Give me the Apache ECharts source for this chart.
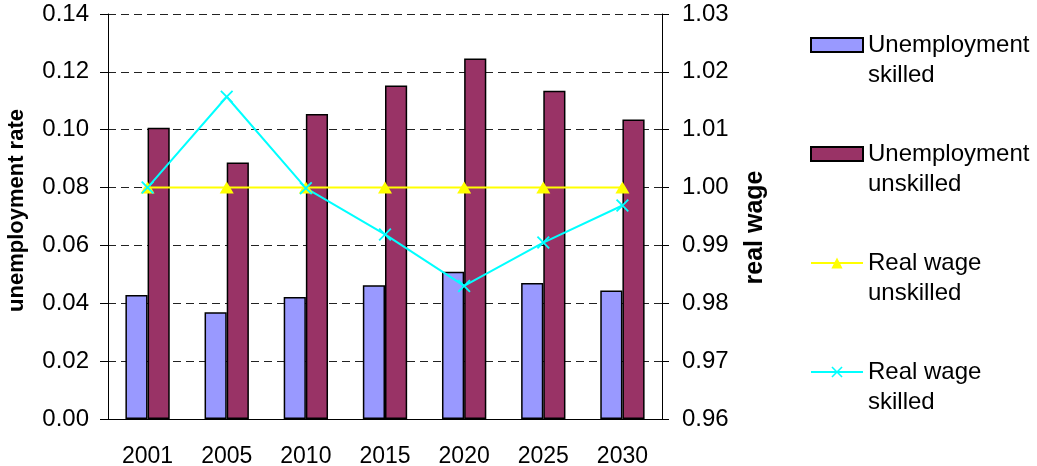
<!DOCTYPE html>
<html>
<head>
<meta charset="utf-8">
<script src="https://cdn.jsdelivr.net/npm/echarts@6/dist/echarts.min.js"></script>
<style>
  html, body { margin: 0; padding: 0; background: #fff; }
  #chart { width: 1037px; height: 466px; }
</style>
</head>
<body>
<div id="chart"></div>
<script>
  // values
  const years = ['2001', '2005', '2010', '2015', '2020', '2025', '2030'];
  const unempSkilled = [0.0429, 0.0369, 0.0422, 0.0462, 0.0509, 0.0470, 0.0444];
  const unempUnskilled = [0.1007, 0.0887, 0.1054, 0.1153, 0.1246, 0.1135, 0.1035];
  const wageUnskilled = [1.000, 1.000, 1.000, 1.000, 1.000, 1.000, 1.000];
  const wageSkilled = [1.0000, 1.0157, 0.9999, 0.9919, 0.9830, 0.9905, 0.9969];

  const font = '"Liberation Sans", Arial, sans-serif';
  const xMark = 'path://M0,1L1,0L5,4L9,0L10,1L6,5L10,9L9,10L5,6L1,10L0,9L4,5Z';

  const chart = echarts.init(document.getElementById('chart'));

  const option = {
    animation: false,
    textStyle: { fontFamily: font },
    grid: { left: 108, right: 375, top: 14, bottom: 47, outerBoundsMode: 'none' },
    legend: {
      orient: 'vertical',
      left: 810,
      top: 0,
      padding: 0,
      itemGap: 19,
      itemWidth: 52,
      itemHeight: 14,
      // blank first line so the icon sits level with the first text line
      formatter: name => ' \n' + name,
      textStyle: {
        fontFamily: font,
        fontSize: 24,
        lineHeight: 30,
        color: '#000'
      },
      data: [
        { name: 'Unemployment\nskilled', icon: 'rect' },
        { name: 'Unemployment\nunskilled', icon: 'rect' },
        { name: 'Real wage\nunskilled' },
        { name: 'Real wage\nskilled' }
      ]
    },
    xAxis: {
      type: 'category',
      data: years,
      axisLine: { lineStyle: { color: '#000', width: 1 } },
      axisTick: { length: 8, lineStyle: { color: '#000' } },
      axisLabel: { fontSize: 23, color: '#000', margin: 26, fontFamily: font }
    },
    yAxis: [{
      type: 'value',
      min: 0,
      max: 0.14,
      interval: 0.02,
      name: 'unemployment rate',
      nameLocation: 'middle',
      nameRotate: 90,
      nameGap: 80,
      nameTextStyle: {
        fontSize: 22, fontWeight: 'bold', color: '#000', fontFamily: font,
        padding: [0, 0, 0, 12]
      },
      axisLine: { show: true, lineStyle: { color: '#000' } },
      axisTick: { show: true, length: 8, lineStyle: { color: '#000' } },
      axisLabel: {
        fontSize: 24, color: '#000', margin: 19, fontFamily: font,
        formatter: v => v.toFixed(2)
      },
      splitLine: { lineStyle: { color: '#222', type: [8, 5], width: 1 } }
    }, {
      type: 'value',
      min: 0.96,
      max: 1.03,
      interval: 0.01,
      name: 'real wage',
      nameLocation: 'middle',
      nameRotate: 90,
      nameGap: 81,
      nameTextStyle: {
        fontSize: 25, fontWeight: 'bold', color: '#000', fontFamily: font,
        padding: [0, 22, 0, 0]
      },
      axisLine: { show: true, lineStyle: { color: '#000' } },
      axisTick: { show: true, length: 7, lineStyle: { color: '#000' } },
      axisLabel: {
        fontSize: 24, color: '#000', margin: 20, fontFamily: font,
        formatter: v => v.toFixed(2)
      },
      splitLine: { show: false }
    }],
    series: [{
      name: 'Unemployment\nskilled',
      type: 'bar',
      data: unempSkilled,
      barGap: '0%',
      barCategoryGap: '44%',
      itemStyle: { color: '#9999FF', borderColor: '#000', borderWidth: 1.5 }
    }, {
      name: 'Unemployment\nunskilled',
      type: 'bar',
      data: unempUnskilled,
      barGap: '0%',
      barCategoryGap: '44%',
      itemStyle: { color: '#993366', borderColor: '#000', borderWidth: 1.5 }
    }, {
      name: 'Real wage\nunskilled',
      type: 'line',
      yAxisIndex: 1,
      data: wageUnskilled,
      symbol: 'triangle',
      symbolSize: [14, 12],
      lineStyle: { color: '#FFFF00', width: 2 },
      itemStyle: { color: '#FFFF00' }
    }, {
      name: 'Real wage\nskilled',
      type: 'line',
      yAxisIndex: 1,
      data: wageSkilled,
      symbol: xMark,
      symbolSize: 13,
      lineStyle: { color: '#00FFFF', width: 2 },
      itemStyle: { color: '#00FFFF' }
    }]
  };

  chart.setOption(option);
</script>
</body>
</html>
